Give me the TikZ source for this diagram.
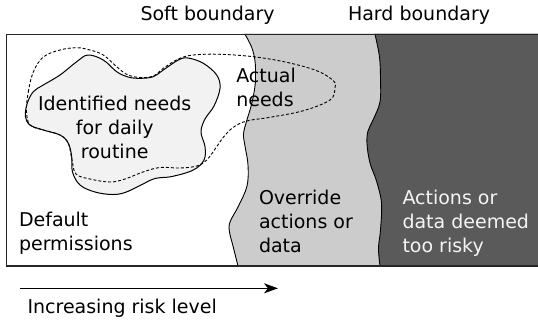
\documentclass[tikz,border=0pt]{standalone}
\usepackage{fontspec}
\setmainfont{DejaVu Sans}
\usetikzlibrary{arrows.meta}
\definecolor{softzone}{HTML}{CCCCCC}
\definecolor{hardzone}{HTML}{5A5A5A}
\definecolor{blobfill}{HTML}{F2F2F2}
\begin{document}
\begin{tikzpicture}[x=1bp,y=-1bp,
  lbl/.style={inner sep=0pt, outer sep=0pt,
    font=\fontsize{19bp}{24bp}\selectfont, text=black},
  lbllight/.style={lbl, text=white!96!black},
  edge/.style={draw=black, line width=0.9bp},
  needline/.style={draw=black, line width=0.9bp, dash pattern=on 3bp off 2bp},
  frame/.style={draw=black!85, line width=1.1bp},
  riskarrow/.style={draw=black, line width=1bp, -{Stealth[length=14bp,width=10bp,inset=4bp]}}]
\useasboundingbox (0,0) rectangle (538,325);

% zone beyond the soft boundary
\path[fill=softzone, edge]
  plot[smooth, tension=0.6] coordinates {(245,34.3) (251.7,47.3) (255,61) (255.5,75) (255,86)
    (251.7,104) (246.7,120.7) (243.5,134) (245,146) (248,165) (247,186) (238.5,206)
    (230,222) (229.5,232) (233,246) (238,266)}
  -- (545,266) -- (545,34.3) -- cycle;

% zone beyond the hard boundary
\path[fill=hardzone, edge]
  plot[smooth, tension=0.6] coordinates {(375,34.3) (379.5,57) (380.5,80) (380,102)
    (373,120) (368,131) (367,144) (370,163) (376.5,181) (381.5,203) (380.5,230)
    (378.5,248) (380,266)}
  -- (545,266) -- (545,34.3) -- cycle;

% identified needs
\path[fill=blobfill, draw=black, line width=1bp]
  plot[smooth cycle, tension=0.6] coordinates {(88,55) (103.3,60) (116.7,71.7) (128,77)
    (140,78.3) (153.3,76.7) (163.3,70) (178.3,60) (188,58) (203.3,63.3) (216.7,75)
    (220,88.3) (214,106) (205,119) (201,132) (205,146.7) (204,160) (193.3,170)
    (172,176.5) (155,178.5) (141,185) (125,192.5) (112,194.5) (95,192) (80,185)
    (72.5,172) (71.7,156.7) (68.3,143.3) (60,135) (43.3,130) (30,125) (25.5,116.7)
    (27,104) (33.3,91.7) (43.3,85) (60,75) (76.7,61.7)};

% actual needs
\path[needline]
  plot[smooth cycle, tension=0.6] coordinates {(26.5,111) (28.3,92) (33.3,72) (43.3,57)
    (60,50) (76.7,47.7) (90,50) (103.3,55) (116.7,66.7) (127,74.5) (140,77.5)
    (153.3,76) (163.3,68.3) (178.3,59) (193.3,55) (220,54.3) (253.3,56.7)
    (286.7,62.3) (316.7,70.7) (333.3,80.7) (335,88) (330,100) (303.3,110.7)
    (270,117.3) (246.7,121) (233.3,127.3) (223.3,137.3) (216.7,146.7) (206.7,160)
    (196.7,166) (180,168) (160,167.5) (143,172) (125,179) (110,182) (90,179)
    (76,174) (72,160) (68.3,143.3) (60,135) (43.3,130) (30,125)};

% outer frame
\path[frame] (6.7,34.3) rectangle (545,266);

% labels (base anchor sits on the last line of each block)
\node[lbl, anchor=base west] (soft) at (140.5,20.7) {Soft boundary};
\node[lbl, anchor=base west] (hard) at (348,20.7) {Hard boundary};
\node[lbl, anchor=base, align=center] (identified) at (114.7,158)
  {Identified needs\\for daily\\routine};
\node[lbl, anchor=base west, align=left] (actual) at (236.3,106) {Actual\\needs};
\node[lbl, anchor=base west, align=left] (default) at (19,250) {Default\\permissions};
\node[lbl, anchor=base west, align=left] (override) at (259,252) {Override\\actions or\\data};
\node[lbllight, anchor=base west, align=left] (risky) at (402.5,252)
  {Actions or\\data deemed\\too risky};

% risk direction
\coordinate (riskstart) at (20,288.3);
\coordinate (riskend) at (278,288.3);
\draw[riskarrow] (riskstart) -- (riskend);
\node[lbl, anchor=base west] (risklabel) at (27.5,313.3) {Increasing risk level};
\end{tikzpicture}
\end{document}
